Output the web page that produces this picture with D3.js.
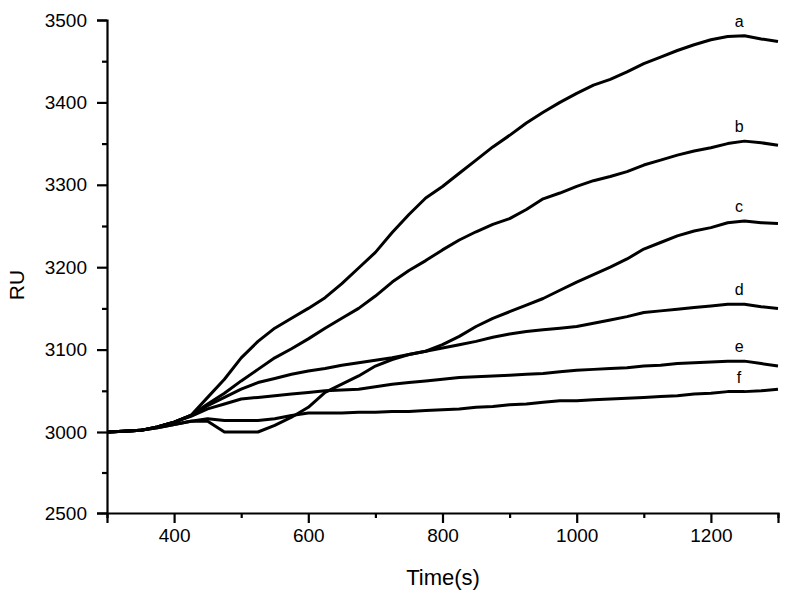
<!DOCTYPE html>
<html>
<head>
<meta charset="utf-8">
<script src="https://cdn.jsdelivr.net/npm/d3@7"></script>
<style>
  body { margin: 0; background: #fff; }
  text { font-family: Arial, "Liberation Sans", sans-serif; fill: #000; }
</style>
</head>
<body>
<svg id="svg1"></svg>
<script>
// time points (s)
var times = [300,325,350,375,400,425,450,475,500,525,550,575,600,625,650,675,700,725,750,775,800,825,850,875,900,925,950,975,1000,1025,1050,1075,1100,1125,1150,1175,1200,1225,1250,1275,1300];

// RU values
var curveA = [3000,3001,3002,3006,3012,3020, 3042,3064,3090,3110,3126,3138, 3150,3163,3180,3199,3218,3242, 3264,3284,3298,3314,3330,3346, 3360,3375,3388,3400,3411,3421, 3428,3437,3447,3455,3463,3470, 3476,3480,3481,3477,3474];
var curveB = [3000,3001,3002,3006,3012,3020, 3034,3047,3062,3076,3090,3101, 3113,3126,3138,3150,3165,3182, 3196,3208,3221,3233,3243,3252, 3259,3270,3283,3290,3298,3305, 3310,3316,3324,3330,3336,3341, 3345,3350,3353,3351,3348];
var curveC = [3000,3001,3002,3005,3009,3013, 3013,3000,3000,3000,3008,3018, 3030,3048,3058,3068,3080,3088, 3094,3098,3106,3116,3128,3138, 3146,3154,3162,3172,3182,3191, 3200,3210,3222,3230,3238,3244, 3248,3254,3256,3254,3253];
var curveD = [3000,3001,3002,3006,3012,3020, 3032,3042,3052,3060,3065,3070, 3074,3077,3081,3084,3087,3090, 3094,3098,3102,3106,3110,3115, 3119,3122,3124,3126,3128,3132, 3136,3140,3145,3147,3149,3151, 3153,3155,3155,3152,3150];
var curveE = [3000,3001,3002,3006,3012,3019, 3028,3034,3040,3042,3044,3046, 3048,3050,3051,3052,3055,3058, 3060,3062,3064,3066,3067,3068, 3069,3070,3071,3073,3075,3076, 3077,3078,3080,3081,3083,3084, 3085,3086,3086,3083,3080];
var curveF = [3000,3001,3002,3005,3009,3013, 3016,3014,3014,3014,3016,3020, 3023,3023,3023,3024,3024,3025, 3025,3026,3027,3028,3030,3031, 3033,3034,3036,3038,3038,3039, 3040,3041,3042,3043,3044,3046, 3047,3049,3049,3050,3052];

var curveNames = ["a","b","c","d","e","f"];
var curveVals = [curveA, curveB, curveC, curveD, curveE, curveF];

var xMajor = [400,600,800,1000,1200];
var xMinor = [300,500,700,900,1100,1300];
var yMajor = [2500,3000,3100,3200,3300,3400,3500];
var yMinor = [2750,3050,3150,3250,3350,3450];

var width = 788, height = 597;
var margin = {left: 107, top: 20, right: 10, bottom: 84};

var svg1 = d3.select("#svg1").attr("width", width).attr("height", height);

var x = d3.scaleLinear().domain([300, 1300]).range([margin.left, width - margin.right]);
// broken axis: 2500-3000 squeezed into one tick step
var y = d3.scaleLinear().domain([2500, 3000, 3500]).range([height - margin.bottom, 432, margin.top]);

var xAxisY = height - margin.bottom;

// axes
var gx = svg1.append("g").attr("transform", `translate(0,${xAxisY})`)
  .call(d3.axisBottom(x).tickValues(xMajor).tickSize(10).tickPadding(6).tickFormat(d3.format("d")));
svg1.append("g").attr("transform", `translate(0,${xAxisY})`)
  .call(d3.axisBottom(x).tickValues(xMinor).tickSize(5).tickFormat(""))
  .select(".domain").remove();

var gy = svg1.append("g").attr("transform", `translate(${margin.left},0)`)
  .call(d3.axisLeft(y).tickValues(yMajor).tickSize(10).tickPadding(10).tickFormat(d3.format("d")));
svg1.append("g").attr("transform", `translate(${margin.left},0)`)
  .call(d3.axisLeft(y).tickValues(yMinor).tickSize(5).tickFormat(""))
  .select(".domain").remove();

svg1.selectAll(".domain").attr("stroke", "#000").attr("stroke-width", 2.2);
svg1.selectAll(".tick line").attr("stroke", "#000").attr("stroke-width", 2.2);
svg1.selectAll(".tick text").style("font-size", "19px").attr("fill", "#000")
  .style("font-family", "Arial, 'Liberation Sans', sans-serif");

// axis titles
svg1.append("text").attr("x", 443).attr("y", 585).attr("text-anchor", "middle")
  .style("font-size", "22px").text("Time(s)");
svg1.append("text").attr("transform", "translate(24,285) rotate(-90)").attr("text-anchor", "middle")
  .style("font-size", "21px").text("RU");

// curves
var line = d3.line().x(function(d, i) { return x(times[i]); }).y(function(d) { return y(d); });

var g = svg1.append("g");
g.selectAll("path.curve")
  .data(curveVals)
  .enter()
  .append("path")
  .attr("class", "curve")
  .attr("fill", "none")
  .attr("stroke", "#000")
  .attr("stroke-width", 3)
  .attr("stroke-linejoin", "round")
  .attr("d", line);

// curve labels near t=1250
g.selectAll("text.lab")
  .data(curveVals)
  .enter()
  .append("text")
  .attr("class", "lab")
  .attr("x", x(1242))
  .attr("y", function(d) { return y(d[38]) - 9; })
  .attr("text-anchor", "middle")
  .style("font-size", "16px")
  .text(function(d, i) { return curveNames[i]; });
</script>
</body>
</html>
